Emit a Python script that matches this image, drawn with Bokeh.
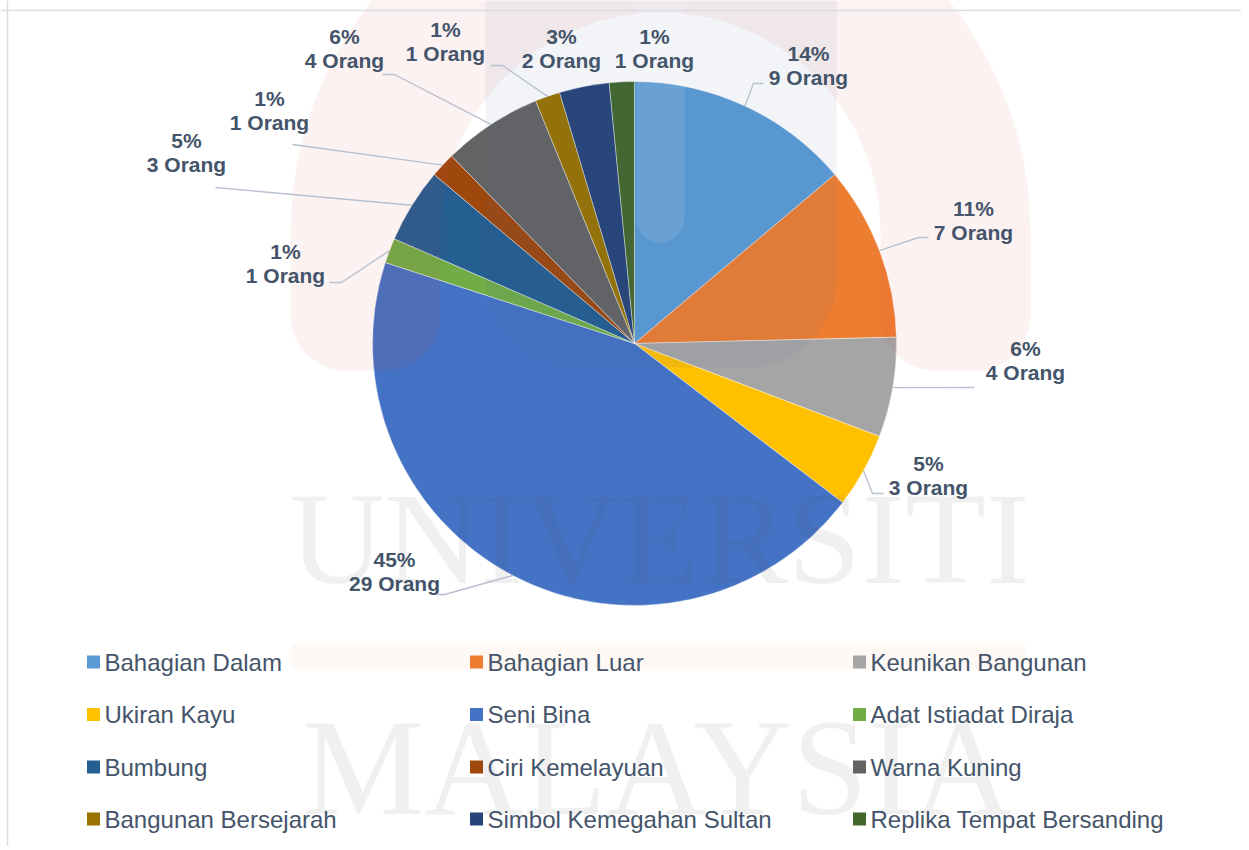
import numpy as np
from bokeh.plotting import figure
from bokeh.models import Range1d, Span, ColumnDataSource
from bokeh.core.properties import value
from bokeh.embed import file_html
from bokeh.resources import INLINE

# ---------------- data ----------------
categories = ["Bahagian Dalam", "Bahagian Luar", "Keunikan Bangunan",
              "Ukiran Kayu", "Seni Bina", "Adat Istiadat Diraja",
              "Bumbung", "Ciri Kemelayuan", "Warna Kuning",
              "Bangunan Bersejarah", "Simbol Kemegahan Sultan",
              "Replika Tempat Bersanding"]
counts = [9, 7, 4, 3, 29, 1, 3, 1, 4, 1, 2, 1]
percent_labels = ["14%", "11%", "6%", "5%", "45%", "1%", "5%", "1%", "6%", "1%", "3%", "1%"]
unit_word = "Orang"
colors = ["#5B9BD5", "#ED7D31", "#A5A5A5", "#FFC000", "#4472C4", "#70AD47",
          "#255E91", "#9E480E", "#636363", "#997300", "#264478", "#43682B"]
watermark_words = ["UNIVERSITI", "MALAYSIA"]

# ---------------- layout (picture pixel coordinates) ----------------
W, H = 1241, 846
OFF = 0
def X(px): return px - OFF
def Y(py): return (H + OFF) - py

PIE_CX, PIE_CY, PIE_R = 634, 343, 262
TEXT_COLOR = "#44546A"
LEADER_COLOR = "#B7C1CF"
FONT = "Liberation Sans"

# label centre (second line) per slice
label_pos = [(808, 77), (973, 232), (1025, 372), (928, 487), (394, 583),
             (285, 275), (186, 164), (269, 122), (344, 60), (445, 53),
             (561, 60), (654, 60)]
LINE_GAP = 24.5
# leader line bends (after starting at the slice edge)
leader_bends = [[(753, 83), (763, 83)], [(918, 237), (928, 237)], [(974, 387)],
                [(872, 493), (883, 493)], [(444, 594), (436, 594)],
                [(341, 282), (329, 282)], [(215, 187)], [(292, 144)],
                [(394, 74), (382, 74)], [(502, 65), (490, 65)], None, None]

legend_col_x = [93, 476, 859]
legend_row_y = [661.5, 714, 766.5, 818.5]

p = figure(width=W, height=H, x_range=Range1d(0, W), y_range=Range1d(0, H),
           output_backend="svg", toolbar_location=None, min_border=0,
           x_axis_location=None, y_axis_location=None)
p.grid.visible = False
p.outline_line_color = None
p.background_fill_color = "white"
p.border_fill_color = "white"

# chart border (top / left)
p.add_layout(Span(location=Y(10), dimension="width", line_color="#D9DEE5", line_width=1.5))
p.add_layout(Span(location=X(7), dimension="height", line_color="#D9DEE5", line_width=1.5))

# ---------------- pie ----------------
total = sum(counts)
cum = np.cumsum([0] + counts)
ang = 2 * np.pi / total
start_a = np.pi / 2 - cum[1:] * ang
end_a = np.pi / 2 - cum[:-1] * ang
src = ColumnDataSource(dict(start=start_a, end=end_a, color=colors, cat=categories))
p.wedge(x=X(PIE_CX), y=Y(PIE_CY), radius=PIE_R, start_angle="start", end_angle="end",
        fill_color="color", line_color="white", line_width=0.6, line_alpha=0.7, source=src)

# ---------------- faint watermark overlay ----------------
def arc(cx, cy, r, t0, t1, n=50):
    t = np.linspace(t0, t1, n)
    return list(cx + r * np.cos(t)), list(cy - r * np.sin(t))

def rounded_u(x0, x1, ytop, ybot, rc):
    xs, ys = [x0], [ytop]
    ax, ay = arc(x0 + rc, ybot - rc, rc, np.pi, 1.5 * np.pi)
    xs += ax; ys += ay
    ax, ay = arc(x1 - rc, ybot - rc, rc, 1.5 * np.pi, 2 * np.pi)
    xs += ax; ys += ay
    xs.append(x1); ys.append(ytop)
    return xs, ys

# pink arch
ax_o, ay_o = arc(660, 232, 370, np.pi, 0)
xs = ax_o[:]; ys = ay_o[:]
bx, by = rounded_u(880, 1030, 232, 370, 55)
xs += bx[::-1]; ys += by[::-1]
ax_i, ay_i = arc(660, 232, 220, 0, np.pi)
xs += ax_i; ys += ay_i
bx, by = rounded_u(290, 440, 232, 370, 55)
xs += bx[::-1]; ys += by[::-1]
p.patch([X(v) for v in xs], [Y(v) for v in ys], fill_color="#E53935", fill_alpha=0.065, line_color=None)

# blue-grey cup and light bar
cx_, cy_ = rounded_u(485, 836, -20, 367, 90)
p.patch([X(v) for v in cx_], [Y(v) for v in cy_], fill_color="#4A6A9A", fill_alpha=0.07, line_color=None)
bx_, by_ = rounded_u(636, 684, -20, 242, 24)
p.patch([X(v) for v in bx_], [Y(v) for v in by_], fill_color="white", fill_alpha=0.1, line_color=None)

# beige band behind first legend row
p.quad(left=X(291), right=X(1025), bottom=Y(669), top=Y(644), fill_color="#F5A04A", fill_alpha=0.06, line_color=None)

p.text(x=[X(659)], y=[Y(538)], text=[watermark_words[0]], text_font=value("Liberation Serif"),
       text_font_size="132px", text_align="center", text_baseline="middle",
       text_color="#555555", text_alpha=0.09)
p.text(x=[X(657)], y=[Y(767)], text=[watermark_words[1]], text_font=value("Liberation Serif"),
       text_font_size="137px", text_align="center", text_baseline="middle",
       text_color="#555555", text_alpha=0.09)

# ---------------- leader lines ----------------
mid = np.pi / 2 - (cum[:-1] + np.array(counts) / 2) * ang
lx, ly = [], []
for i, bends in enumerate(leader_bends):
    if not bends:
        continue
    sx = X(PIE_CX) + PIE_R * np.cos(mid[i])
    sy = Y(PIE_CY) + PIE_R * np.sin(mid[i])
    lx.append([sx] + [X(b[0]) for b in bends])
    ly.append([sy] + [Y(b[1]) for b in bends])
p.multi_line(lx, ly, line_color=LEADER_COLOR, line_width=1.4)

# ---------------- data labels ----------------
count_labels = [f"{c} {unit_word}" for c in counts]
lab_x = [X(a) for a, b in label_pos]
lab_y2 = [Y(b) for a, b in label_pos]
lab_y1 = [v + LINE_GAP for v in lab_y2]
p.text(x=lab_x, y=lab_y1, text=percent_labels, text_font=value(FONT), text_font_size="21px",
       text_font_style="bold", text_align="center", text_baseline="middle", text_color=TEXT_COLOR)
p.text(x=lab_x, y=lab_y2, text=count_labels, text_font=value(FONT), text_font_size="21px",
       text_font_style="bold", text_align="center", text_baseline="middle", text_color=TEXT_COLOR)

# ---------------- legend ----------------
leg_x = [X(legend_col_x[i % 3]) for i in range(len(categories))]
leg_y = [Y(legend_row_y[i // 3]) for i in range(len(categories))]
p.rect(x=leg_x, y=leg_y, width=13, height=13, fill_color=colors, line_color=None)
p.text(x=[v + 11 for v in leg_x], y=leg_y, text=categories, text_font=value(FONT),
       text_font_size="24px", text_align="left", text_baseline="middle", text_color=TEXT_COLOR)

open("out.html", "w").write(file_html(p, INLINE))
